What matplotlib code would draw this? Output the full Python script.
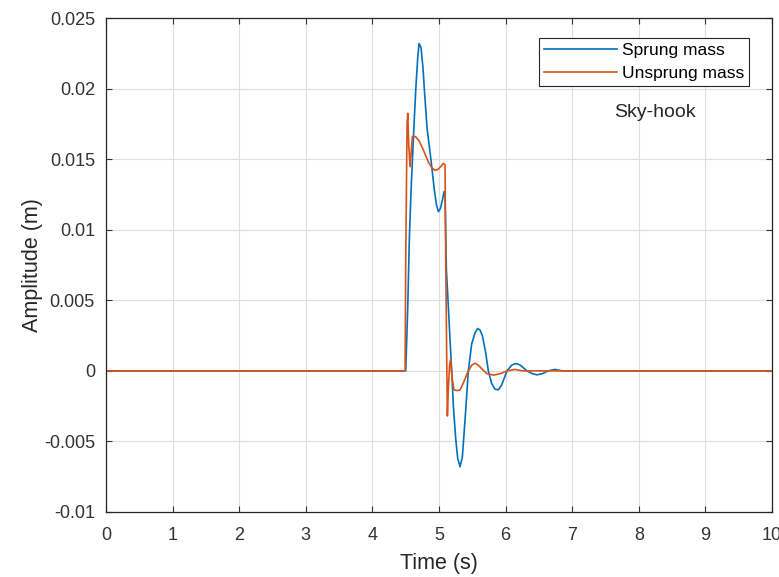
import matplotlib
matplotlib.use("Agg")
import matplotlib.pyplot as plt

plt.rcParams['font.family'] = ['Liberation Sans', 'DejaVu Sans']

# time (s) / amplitude (m)
t_sprung = [0.0, 4.50, 4.53, 4.555, 4.58, 4.60, 4.63, 4.65, 4.68, 4.70, 4.73,
            4.76, 4.78, 4.82, 4.88, 4.93, 4.96, 4.99, 5.02, 5.05, 5.075, 5.09,
            5.11, 5.14, 5.165, 5.19, 5.215, 5.25, 5.28, 5.315, 5.35, 5.39,
            5.44, 5.49, 5.54, 5.58, 5.615, 5.65, 5.70, 5.74, 5.79, 5.84, 5.89,
            5.94, 6.02, 6.09, 6.14, 6.175, 6.22, 6.32, 6.40, 6.47, 6.55, 6.64,
            6.74, 6.85, 7.0, 10.0]
y_sprung = [0.0, 0.0, 0.0045, 0.0095, 0.0128, 0.0149, 0.0180, 0.0199, 0.0222,
            0.0232, 0.0229, 0.0214, 0.0199, 0.0172, 0.0149, 0.0128, 0.0118,
            0.01128, 0.0115, 0.0121, 0.0127, 0.0124, 0.0072, 0.0045, 0.0022,
            0.0000, -0.0025, -0.0048, -0.0062, -0.0068, -0.0061, -0.0035,
            0.0000, 0.0019, 0.0027, 0.0030, 0.0029, 0.0025, 0.0013, 0.0000,
            -0.0009, -0.0013, -0.00135, -0.0010, 0.0000, 0.0004, 0.0005,
            0.0005, 0.0004, 0.0000, -0.0002, -0.00028, -0.0002, 0.0000,
            0.0001, 0.0000, 0.0, 0.0]

t_unsprung = [0.0, 4.49, 4.50, 4.52, 4.53, 4.545, 4.565, 4.60, 4.645, 4.70,
              4.76, 4.84, 4.89, 4.94, 4.99, 5.03, 5.065, 5.09, 5.10, 5.115,
              5.125, 5.14, 5.16, 5.175, 5.195, 5.225, 5.27, 5.315, 5.37, 5.43,
              5.49, 5.54, 5.59, 5.65, 5.72, 5.82, 5.92, 6.02, 6.14, 6.25, 6.4,
              10.0]
y_unsprung = [0.0, 0.0, 0.0080, 0.0175, 0.01825, 0.0160, 0.01447, 0.0166,
              0.0166, 0.0163, 0.0157, 0.0148, 0.0144, 0.0142, 0.0143, 0.0145,
              0.0147, 0.0146, 0.0080, 0.0010, -0.0032, -0.0012, 0.0005, 0.0008,
              -0.0005, -0.00135, -0.0014, -0.00135, -0.0008, -0.0001, 0.0004,
              0.00054, 0.0004, 0.0001, -0.0002, -0.0003, -0.0002, 0.0000,
              0.0001, 0.0000, 0.0, 0.0]

x_ticks = list(range(0, 11))
y_ticks = [-0.01, -0.005, 0, 0.005, 0.01, 0.015, 0.02, 0.025]
y_tick_labels = ['-0.01', '-0.005', '0', '0.005', '0.01', '0.015', '0.02', '0.025']

fig = plt.figure(figsize=(7.79, 5.77), dpi=100)
ax = fig.add_axes([0.1361, 0.1127, 0.855, 0.856])

ax.plot(t_sprung, y_sprung, color='#0072BD', lw=1.2, label='Sprung mass')
ax.plot(t_unsprung, y_unsprung, color='#D95319', lw=1.2, label='Unsprung mass')

ax.set_xlim(0, 10)
ax.set_ylim(-0.01, 0.025)
ax.set_xticks(x_ticks)
ax.set_yticks(y_ticks)
ax.set_yticklabels(y_tick_labels)
ax.grid(True, color='#dedede', lw=0.8)
ax.set_axisbelow(True)
ax.tick_params(direction='in', top=True, right=True, length=4, width=0.8,
               labelsize=13, colors='#333333')
ax.tick_params(axis='x', pad=11)
ax.tick_params(axis='y', pad=8)
for s in ax.spines.values():
    s.set_color('#262626')
    s.set_linewidth(0.9)

ax.set_xlabel('Time (s)', fontsize=15.5, color='#262626')
ax.set_ylabel('Amplitude (m)', fontsize=15.5, color='#262626')
ax.xaxis.set_label_coords(0.5, -0.083)
ax.yaxis.set_label_coords(-0.095, 0.5)

leg = ax.legend(loc='upper right', bbox_to_anchor=(0.966, 0.96), fontsize=12.5,
                handlelength=4.2, handletextpad=0.3, borderpad=0.3,
                labelspacing=0.45, fancybox=False, framealpha=1,
                edgecolor='#262626', borderaxespad=0)
leg.get_frame().set_linewidth(0.8)

ax.text(8.24, 0.01834, 'Sky-hook', ha='center', va='center', fontsize=14,
        color='#262626')

fig.savefig('out.png', dpi=100)
